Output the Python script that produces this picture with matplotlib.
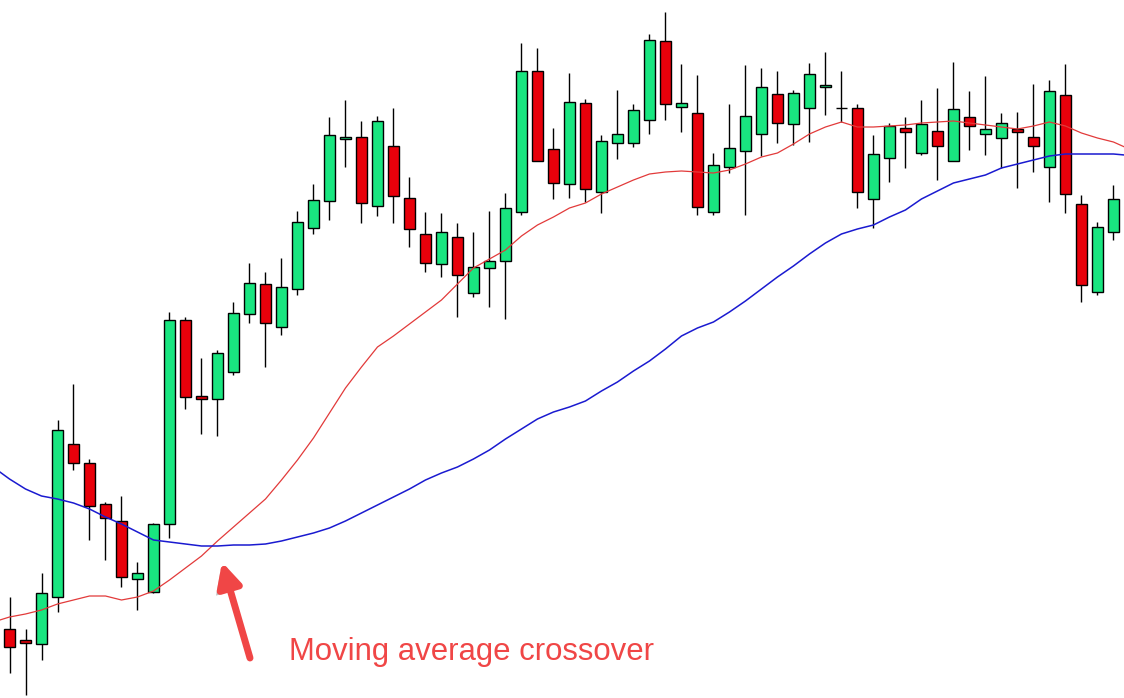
import numpy as np
import matplotlib
matplotlib.use("Agg")
import matplotlib.pyplot as plt
import matplotlib.patheffects as pe

# candle prices (open, high, low, close)
opens = [71, 60, 56, 103, 256, 237, 196, 179, 121, 108,
         176, 380, 304, 301, 328, 386, 416, 373, 411, 472,
         499, 561, 563, 494, 554, 502, 466, 436, 463, 407,
         432, 439, 488, 629, 551, 516, 597, 508, 557, 557,
         580, 659, 593, 587, 488, 533, 549, 566, 606, 576,
         592, 613, 592, 592, 501, 542, 572, 547, 569, 539,
         583, 566, 562, 571, 563, 533, 605, 496, 408, 468]
highs = [103, 71, 127, 280, 316, 241, 198, 204, 138, 177,
         388, 383, 342, 350, 398, 437, 428, 442, 489, 516,
         583, 600, 579, 584, 592, 523, 488, 487, 477, 468,
         489, 507, 657, 652, 572, 627, 601, 565, 610, 596,
         666, 688, 636, 625, 547, 596, 635, 632, 629, 610,
         637, 648, 629, 596, 565, 577, 583, 600, 612, 638,
         609, 624, 587, 588, 616, 620, 636, 505, 478, 515]
lows = [27, 5, 40, 88, 230, 160, 140, 113, 90, 107,
        162, 291, 266, 264, 325, 377, 333, 365, 405, 466,
        480, 533, 477, 484, 477, 453, 428, 423, 383, 403,
        393, 381, 485, 539, 501, 502, 498, 487, 541, 553,
        566, 580, 568, 485, 485, 527, 485, 544, 557, 555,
        558, 585, 578, 492, 472, 518, 532, 545, 520, 539,
        550, 545, 532, 512, 528, 498, 487, 398, 405, 460]
closes = [53, 57, 107, 270, 237, 194, 182, 123, 127, 176,
          380, 303, 301, 347, 387, 417, 377, 413, 478, 500,
          565, 563, 497, 579, 504, 471, 437, 468, 425, 433,
          439, 492, 629, 539, 517, 598, 511, 559, 566, 590,
          660, 596, 597, 493, 535, 552, 584, 613, 577, 607,
          626, 615, 592, 508, 546, 574, 568, 576, 554, 591,
          574, 571, 577, 568, 554, 609, 506, 415, 473, 501]

# moving averages (fast = red, slow = blue), sampled at each candle
# plus one point just outside each edge of the chart
ma_x = [-0.6] + list(range(70)) + [69.7]
ma_fast = [80, 83, 86, 90, 96, 100, 104, 104, 100, 103, 109,
           120, 132, 144, 159, 173, 187, 201, 220, 240, 262,
           287, 312, 333, 353, 364, 376, 388, 400, 416, 432,
           441, 450, 464, 475, 483, 492, 497, 506, 513, 520,
           526, 528, 529, 528, 527, 530, 536, 543, 547, 556,
           566, 573, 578, 573, 573, 574, 575, 577, 578, 579,
           577, 575, 573, 571, 574, 578, 574, 567, 562, 558, 553]
ma_slow = [228, 221, 211, 204, 201, 197, 191, 183, 176, 168, 160,
           158, 156, 154, 154, 155, 155, 156, 159, 163, 167,
           172, 179, 187, 195, 203, 211, 220, 227, 233, 241,
           250, 261, 271, 281, 288, 293, 299, 309, 318, 329,
           339, 351, 364, 372, 378, 388, 399, 411, 423, 434,
           446, 457, 466, 471, 475, 483, 490, 501, 509, 517,
           521, 525, 532, 536, 540, 544, 546, 546, 546, 546, 545]

GREEN = '#19e680'
RED = '#e8000b'


def draw_candles(ax):
	o = np.array(opens)
	c = np.array(closes)
	x = np.arange(len(o))
	up = c >= o
	colors = np.where(up, GREEN, RED)
	ax.vlines(x, lows, highs, color='black', linewidth=1.0, zorder=1)
	ax.bar(x, np.abs(c - o), bottom=np.minimum(o, c), width=0.69,
	       color=colors, edgecolor='black', linewidth=1.0, zorder=2)


def draw_averages(ax):
	ax.plot(ma_x, ma_fast, color='#e23a3a', linewidth=0.9, zorder=3)
	ax.plot(ma_x, ma_slow, color='#1a1ad0', linewidth=1.1, zorder=3)


def main():
	fig = plt.figure(figsize=(11.24, 6.98), dpi=100)
	ax = fig.add_axes([0, 0, 1, 1])

	draw_candles(ax)
	draw_averages(ax)

	ax.set_xlim(-0.594, 69.66)
	ax.set_ylim(2, 700)
	ax.axis("off")

	# arrow + label
	shadow = [pe.SimplePatchShadow(offset=(-3, -3), shadow_rgbFace='#888888', alpha=0.5), pe.Normal()]
	ax.annotate("", xy=(222 / 1124, 1 - 562 / 698), xytext=(250 / 1124, 1 - 658 / 698),
	            xycoords='axes fraction', textcoords='axes fraction',
	            arrowprops=dict(arrowstyle='-|>', color='#f04646', lw=5,
	                            mutation_scale=36, shrinkA=0, shrinkB=0,
	                            path_effects=shadow), zorder=5)
	ax.text(289 / 1124, 1 - 660 / 698, "Moving average crossover",
	        transform=ax.transAxes, fontsize=22.4, color='#f04646',
	        family='Liberation Sans', ha='left', va='baseline')

	plt.savefig("out.png", dpi=100)


if __name__ == "__main__":
	main()
